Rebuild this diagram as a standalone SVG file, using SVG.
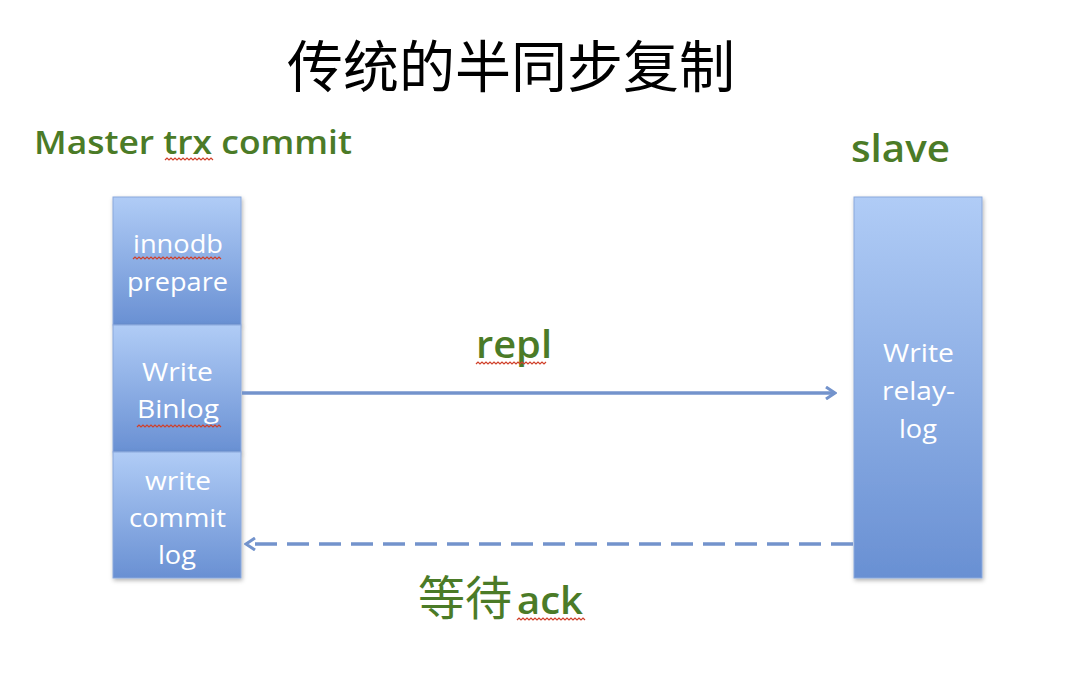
<svg xmlns="http://www.w3.org/2000/svg" width="1092" height="690" viewBox="0 0 1092 690">
<style>
.ttl{font-family:"Noto Sans CJK SC","Noto Sans CJK JP",sans-serif;font-size:56px;font-weight:400;fill:#000;}
.grn{font-family:"Open Sans",Lato,"Noto Sans CJK SC",sans-serif;font-weight:600;fill:#4b7b27;}
.wt{font-family:"Open Sans",Lato,sans-serif;font-size:26px;font-weight:500;fill:#fff;}
.box{fill:url(#g);stroke:#8aa8dc;stroke-width:1;filter:url(#sh);}
.sq{fill:none;stroke:#d0402a;stroke-width:1.2;}
.con{fill:none;stroke:#7393cc;stroke-width:3.5;}
</style>
<defs>
<linearGradient id="g" x1="0" y1="0" x2="0" y2="1">
<stop offset="0" stop-color="#b0ccf6"/>
<stop offset="1" stop-color="#6990d3"/>
</linearGradient>
<filter id="sh" x="-10%" y="-10%" width="130%" height="130%">
<feDropShadow dx="1" dy="2" stdDeviation="2" flood-color="#000" flood-opacity="0.3"/>
</filter>
<marker id="ah" markerWidth="12" markerHeight="14" refX="10" refY="7" orient="auto" markerUnits="userSpaceOnUse">
<path d="M1,1 L10,7 L1,13" fill="none" stroke="#7393cc" stroke-width="3"/>
</marker>
</defs>
<text class="ttl" x="511" y="87" text-anchor="middle">传统的半同步复制</text>
<text class="grn" x="34" y="154" font-size="33" textLength="318" lengthAdjust="spacingAndGlyphs">Master trx commit</text>
<path class="sq" d="M165,160 l2,-2 2,2 2,-2 2,2 2,-2 2,2 2,-2 2,2 2,-2 2,2 2,-2 2,2 2,-2 2,2 2,-2 2,2 2,-2 2,2 2,-2 2,2 2,-2 2,2 2,-2 2,2"/>
<text class="grn" x="851" y="162" font-size="37" textLength="99" lengthAdjust="spacingAndGlyphs">slave</text>
<g id="innodb-prepare">
<rect class="box" x="113" y="197" width="128" height="128"/>
<text class="wt" x="133" y="253" textLength="90" lengthAdjust="spacingAndGlyphs">innodb</text>
<text class="wt" x="127" y="291" textLength="101" lengthAdjust="spacingAndGlyphs">prepare</text>
<path class="sq" d="M133,259 l2,-2 2,2 2,-2 2,2 2,-2 2,2 2,-2 2,2 2,-2 2,2 2,-2 2,2 2,-2 2,2 2,-2 2,2 2,-2 2,2 2,-2 2,2 2,-2 2,2 2,-2 2,2 2,-2 2,2 2,-2 2,2 2,-2 2,2 2,-2 2,2 2,-2 2,2 2,-2 2,2 2,-2 2,2 2,-2 2,2 2,-2 2,2 2,-2 2,2"/>
</g>
<g id="write-binlog">
<rect class="box" x="113" y="325" width="128" height="127"/>
<text class="wt" x="142" y="381" textLength="71" lengthAdjust="spacingAndGlyphs">Write</text>
<text class="wt" x="137" y="418" textLength="82" lengthAdjust="spacingAndGlyphs">Binlog</text>
<path class="sq" d="M137,427 l2,-2 2,2 2,-2 2,2 2,-2 2,2 2,-2 2,2 2,-2 2,2 2,-2 2,2 2,-2 2,2 2,-2 2,2 2,-2 2,2 2,-2 2,2 2,-2 2,2 2,-2 2,2 2,-2 2,2 2,-2 2,2 2,-2 2,2 2,-2 2,2 2,-2 2,2 2,-2 2,2 2,-2 2,2 2,-2 2,2 2,-2 2,2"/>
</g>
<g id="write-commit-log">
<rect class="box" x="113" y="452" width="128" height="126"/>
<text class="wt" x="145" y="490" textLength="66" lengthAdjust="spacingAndGlyphs">write</text>
<text class="wt" x="129" y="527" textLength="97" lengthAdjust="spacingAndGlyphs">commit</text>
<text class="wt" x="158" y="564" textLength="38" lengthAdjust="spacingAndGlyphs">log</text>
</g>
<g id="slave-relay-log">
<rect class="box" x="854" y="197" width="128" height="381"/>
<text class="wt" x="883" y="362" textLength="71" lengthAdjust="spacingAndGlyphs">Write</text>
<text class="wt" x="882" y="400" textLength="73" lengthAdjust="spacingAndGlyphs">relay-</text>
<text class="wt" x="899" y="438" textLength="38" lengthAdjust="spacingAndGlyphs">log</text>
</g>
<g id="connectors">
<line class="con" x1="242" y1="393" x2="835" y2="393" marker-end="url(#ah)"/>
<line class="con" x1="853" y1="544" x2="246" y2="544" stroke-dasharray="22,10" marker-end="url(#ah)"/>
</g>
<text class="grn" x="476" y="358" font-size="37" textLength="76" lengthAdjust="spacingAndGlyphs">repl</text>
<path class="sq" d="M476,364 l2,-2 2,2 2,-2 2,2 2,-2 2,2 2,-2 2,2 2,-2 2,2 2,-2 2,2 2,-2 2,2 2,-2 2,2 2,-2 2,2 2,-2 2,2 2,-2 2,2 2,-2 2,2 2,-2 2,2 2,-2 2,2 2,-2 2,2 2,-2 2,2 2,-2 2,2 2,-2"/>
<text x="418" y="615" font-size="47" font-family="Noto Sans CJK SC,sans-serif" fill="#4b7b27">等待</text>
<text class="grn" x="517" y="614" font-size="37" textLength="66" lengthAdjust="spacingAndGlyphs">ack</text>
<path class="sq" d="M517,620 l2,-2 2,2 2,-2 2,2 2,-2 2,2 2,-2 2,2 2,-2 2,2 2,-2 2,2 2,-2 2,2 2,-2 2,2 2,-2 2,2 2,-2 2,2 2,-2 2,2 2,-2 2,2 2,-2 2,2 2,-2 2,2 2,-2 2,2 2,-2 2,2 2,-2 2,2"/>
</svg>
